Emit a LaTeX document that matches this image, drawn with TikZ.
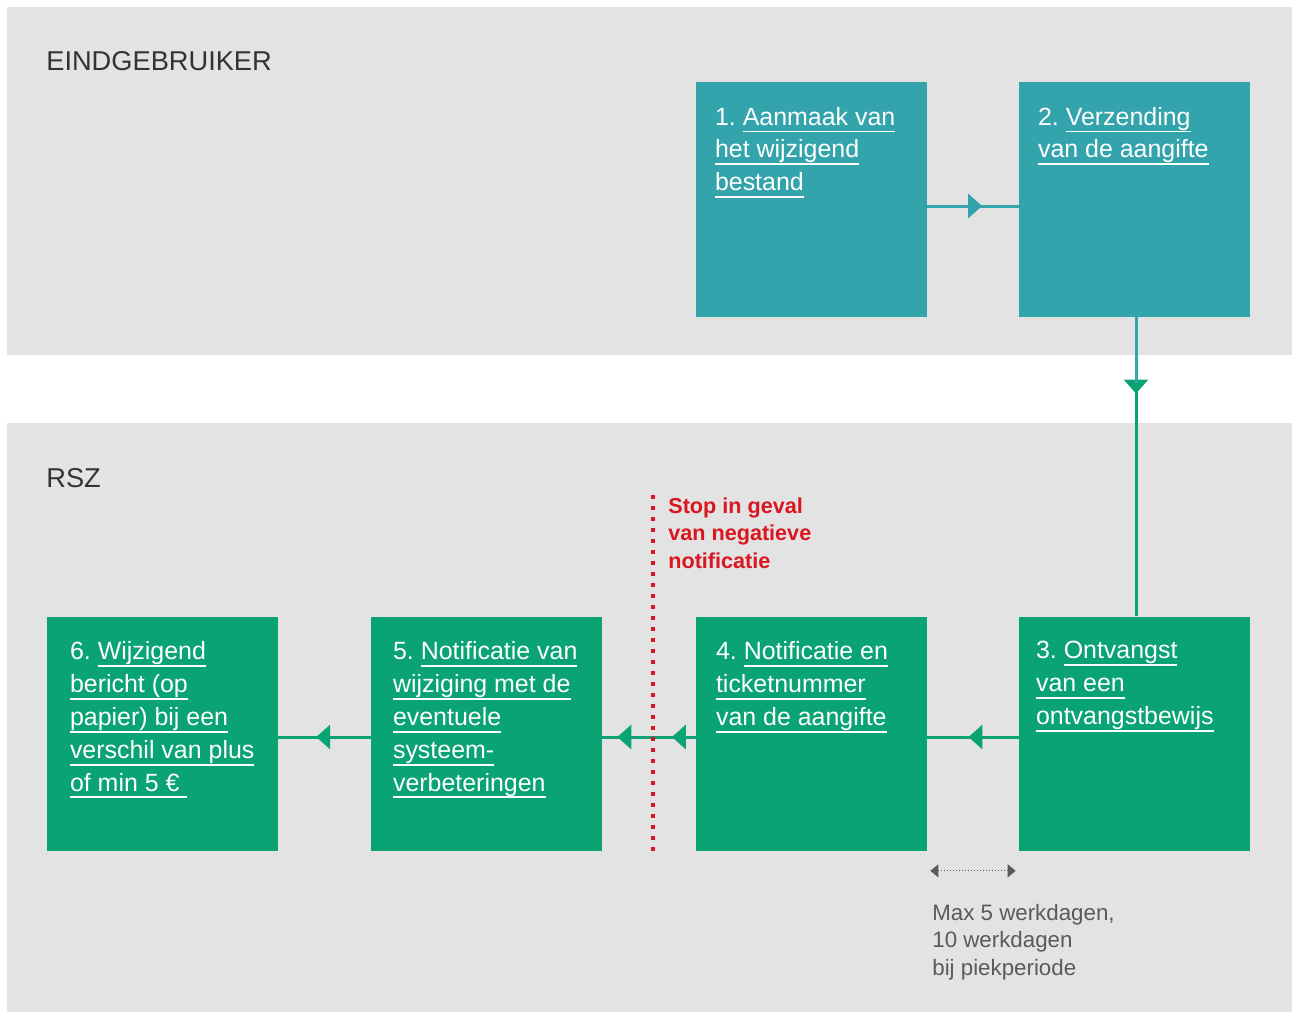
\documentclass[tikz,border=0pt]{standalone}
\usepackage{fontspec}
\setmainfont{Liberation Sans}
\usetikzlibrary{arrows.meta,decorations.markings,calc}
\definecolor{bandgray}{RGB}{227,227,227}
\definecolor{teal1}{RGB}{51,163,172}
\definecolor{green1}{RGB}{10,163,116}
\definecolor{stopred}{RGB}{218,22,32}
\definecolor{darktext}{RGB}{51,51,51}
\definecolor{graytext}{RGB}{90,90,90}
\frenchspacing
\newcommand\myul[1]{\setbox0=\hbox{#1}\rlap{\rule[-4.2pt]{\wd0}{1.1pt}}\box0}
\tikzset{
  box/.style={minimum width=4.62cm, minimum height=4.7cm, inner sep=0pt, draw=none},
  tealbox/.style={box, fill=teal1},
  greenbox/.style={box, fill=green1},
  boxtext/.style={anchor=north west, inner sep=0pt, text=white, align=left,
    font=\fontsize{14.2}{18.7}\selectfont},
  conn/.style={line width=0.06cm},
  midarrow/.style={postaction={decorate}, decoration={markings,
    mark=at position #1 with {\arrow{Triangle[length=0.28cm,width=0.48cm]}}}},
  header/.style={anchor=base west, inner sep=0pt, text=darktext,
    font=\fontsize{15.5}{18}\selectfont},
}
\begin{document}
\begin{tikzpicture}[x=0.02cm,y=-0.02cm]
% background
\fill[white] (0,0) rectangle (1299,1014);
\fill[bandgray] (7,7) rectangle (1292,355);
\fill[bandgray] (7,423) rectangle (1292,1012);
% headers
\node[header] (h1) at (46,71) {EINDGEBRUIKER};
\node[header] (h2) at (46,487) {RSZ};
% boxes
\node[tealbox] (b1) at (811.5,199.5) {};
\node[tealbox] (b2) at (1134.5,199.5) {};
\node[greenbox] (b6) at (162.5,734) {};
\node[greenbox] (b5) at (486.5,734) {};
\node[greenbox] (b4) at (811.5,734) {};
\node[greenbox] (b3) at (1134.5,734) {};
% box texts
\node[boxtext] (t1) at ($(b1.north west)+(19,25)$) {1. \myul{Aanmaak van}\\\myul{het wijzigend}\\\myul{bestand}};
\node[boxtext] (t2) at ($(b2.north west)+(19,25)$) {2. \myul{Verzending}\\\myul{van de aangifte}};
\node[boxtext] (t3) at ($(b3.north west)+(17,25)$) {3. \myul{Ontvangst}\\\myul{van een}\\\myul{ontvangstbewijs}};
\node[boxtext] (t4) at ($(b4.north west)+(20,25)$) {4. \myul{Notificatie en}\\\myul{ticketnummer}\\\myul{van de aangifte}};
\node[boxtext] (t5) at ($(b5.north west)+(22,25)$) {5. \myul{Notificatie van}\\\myul{wijziging met de}\\\myul{eventuele}\\\myul{systeem-}\\\myul{verbeteringen}};
\node[boxtext] (t6) at ($(b6.north west)+(23,25)$) {6. \myul{Wijzigend}\\\myul{bericht (op}\\\myul{papier) bij een}\\\myul{verschil van plus}\\\myul{of min 5 €\ }};
% connectors
\draw[conn, teal1, midarrow=0.6] ($(b1.east)+(0,6.5)$) -- ($(b2.west)+(0,6.5)$);
\coordinate (m) at ($(b2.south)+(1.5,66)$);
\draw[conn, green1, midarrow=0.255] ($(b2.south)+(1.5,0)$) -- ($(b3.north)+(1.5,0)$);
\draw[conn, teal1] ($(b2.south)+(1.5,0)$) -- (m);
\draw[conn, green1, midarrow=0.55] ($(b3.west)+(0,3)$) -- ($(b4.east)+(0,3)$);
\draw[conn, green1, postaction={decorate}, decoration={markings,
    mark=at position 0.255 with {\arrow{Triangle[length=0.28cm,width=0.48cm]}},
    mark=at position 0.84 with {\arrow{Triangle[length=0.28cm,width=0.48cm]}}}]
  ($(b4.west)+(0,3)$) -- ($(b5.east)+(0,3)$);
\draw[conn, green1, midarrow=0.59] ($(b5.west)+(0,3)$) -- ($(b6.east)+(0,3)$);
% stop line
\coordinate (s1) at (653,495);
\coordinate (s2) at (653,855);
\draw[stopred, line width=0.08cm, dash pattern=on 0.08cm off 0.14cm] (s1) -- (s2);
\node[anchor=north west, inner sep=0pt, text=stopred, align=left,
  font=\bfseries\fontsize{12.3}{15.9}\selectfont] (stop) at (668,497)
  {Stop in geval\\van negatieve\\notificatie};
% duration
\draw[graytext, line width=0.02cm, dash pattern=on 0.02cm off 0.04cm,
  {Triangle[length=0.16cm,width=0.26cm]}-{Triangle[length=0.16cm,width=0.26cm]}]
  ($(b4.south east)+(3,19)$) -- ($(b3.south west)+(-3,19)$);
\node[anchor=north west, inner sep=0pt, text=graytext, align=left,
  font=\fontsize{12.7}{15.6}\selectfont] (note) at (932,904)
  {Max 5 werkdagen,\\10 werkdagen\\bij piekperiode};
\end{tikzpicture}
\end{document}
